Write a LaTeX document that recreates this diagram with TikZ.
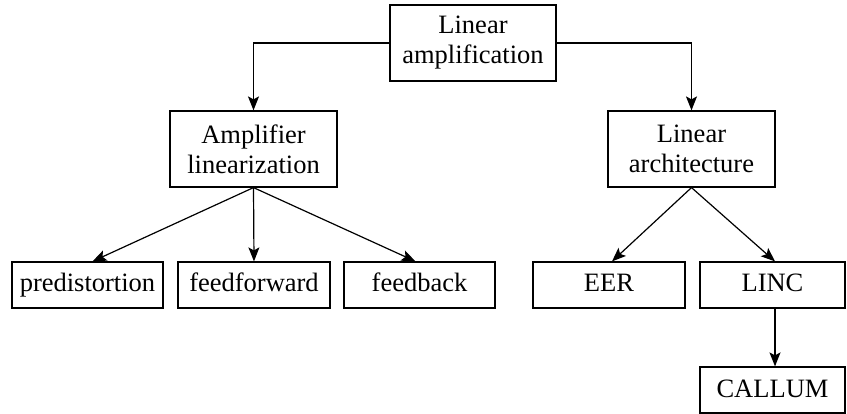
\documentclass[tikz,border=0pt]{standalone}
\usepackage{fontspec}
\setmainfont{Liberation Serif}
\usetikzlibrary{arrows.meta,calc}
\begin{document}
\begin{tikzpicture}[x=1pt,y=-1pt,
  box/.style={draw,line width=1.2pt,inner sep=0pt,align=center,
    font=\fontsize{26.5}{30}\selectfont},
  leaf/.style={box,minimum height=46pt,text height=19pt,text depth=5pt},
  conn/.style={line width=1.2pt,-{Stealth[length=14pt,width=11pt,inset=3pt]}}]
\useasboundingbox (0,0) rectangle (847,414);
\node[box,minimum width=166pt,minimum height=76pt] (top) at (473,43) {Linear\\amplification};
\node[box,minimum width=167pt,minimum height=76pt] (amp) at (253.5,149) {Amplifier\\linearization};
\node[box,minimum width=167pt,minimum height=76pt] (arch) at (691.5,149) {Linear\\architecture};
\node[leaf,minimum width=151pt] (pre) at (87.5,285) {predistortion};
\node[leaf,minimum width=152pt] (ff) at (254,285) {feedforward};
\node[leaf,minimum width=151pt] (fb) at (419.5,285) {feedback};
\node[leaf,minimum width=152pt] (eer) at (609,285) {EER};
\node[leaf,minimum width=145pt] (linc) at (772.5,285) {LINC};
\node[leaf,minimum width=145pt] (callum) at (772.5,390) {CALLUM};
\draw[conn] (top.west) -| (amp.north);
\draw[conn] (top.east) -| (arch.north);
\draw[conn] (amp.south) -- ($(pre.north)+(5,0)$);
\draw[conn] (amp.south) -- (ff.north);
\draw[conn] (amp.south) -- ($(fb.north)+(-4,0)$);
\draw[conn] (arch.south) -- ($(eer.north)+(3,0)$);
\draw[conn] (arch.south) -- ($(linc.north)+(2.5,0)$);
\draw[conn] ($(linc.south)+(2.5,0)$) -- ($(callum.north)+(2.5,0)$);
\end{tikzpicture}
\end{document}
